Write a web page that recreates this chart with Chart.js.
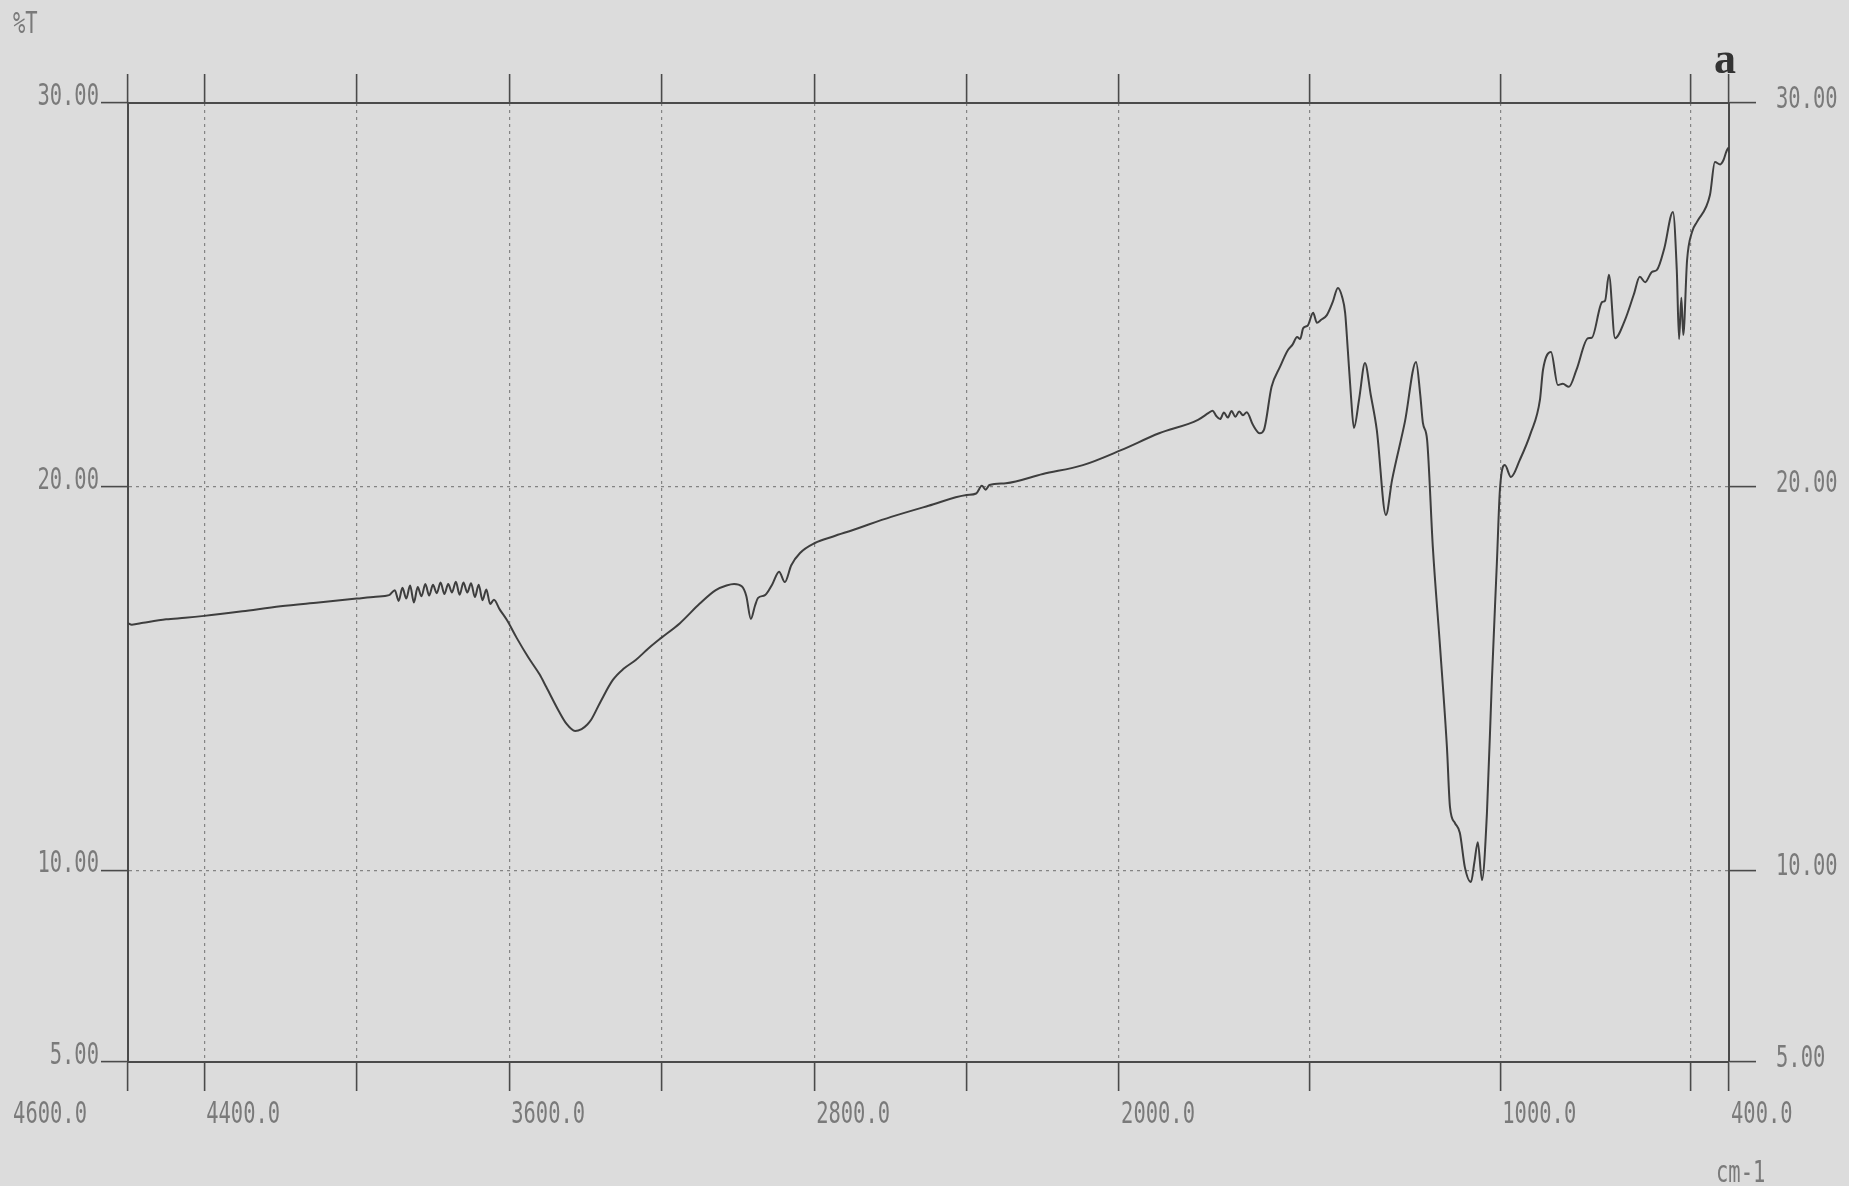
<!DOCTYPE html>
<html>
<head>
<meta charset="utf-8">
<title>IR spectrum a</title>
<script src="https://cdn.jsdelivr.net/npm/chart.js@4.4.1/dist/chart.umd.min.js"></script>
<style>
  html, body { margin: 0; padding: 0; background: #dcdcdc; }
  #wrap { width: 1849px; height: 1186px; position: relative; }
</style>
</head>
<body>
<div id="wrap"><canvas id="irChart"></canvas></div>
<script>
// spectrum points, cm-1 and %T
const wavenumbers = [
  4600, 4590, 4560, 4500, 4450, 4400, 4300, 4200, 4100, 4000, 3950, 3915,
  3900, 3890, 3880, 3870, 3860, 3850, 3840, 3830, 3820, 3810, 3800, 3790,
  3780, 3770, 3760, 3750, 3740, 3730, 3720, 3710, 3700, 3690, 3680, 3670,
  3660, 3650, 3640, 3625, 3606, 3580, 3550, 3520, 3503, 3470, 3450, 3427,
  3410, 3395, 3385, 3360, 3328, 3300, 3268, 3235, 3202, 3152, 3100, 3058,
  3030, 3010, 2990, 2978, 2966, 2955, 2947, 2929, 2910, 2892, 2877, 2860,
  2837, 2798, 2750, 2698, 2598, 2500, 2400, 2375, 2360, 2350, 2340, 2297,
  2200, 2095, 1995, 1895, 1793, 1765, 1755, 1745, 1735, 1725, 1715, 1705,
  1695, 1685, 1675, 1665, 1649, 1631, 1620, 1600, 1578, 1557, 1545, 1533,
  1525, 1517, 1505, 1491, 1481, 1470, 1455, 1440, 1426, 1415, 1407, 1400,
  1392, 1384, 1370, 1355, 1340, 1324, 1300, 1284, 1250, 1221, 1210, 1203,
  1192, 1177, 1158, 1140, 1132, 1119, 1106, 1093, 1077, 1068, 1059, 1048,
  1035, 1022, 1009, 1001, 988, 972, 949, 920, 896, 888, 867, 849,
  836, 820, 800, 770, 760, 733, 725, 715, 699, 673, 650, 634,
  620, 602, 589, 570, 547, 537, 531, 525, 520, 510, 497, 484,
  450, 437, 423, 415, 402, 400
];
const transmittance = [
  16.44, 16.40, 16.45, 16.54, 16.58, 16.63, 16.75, 16.88, 16.98, 17.08, 17.13, 17.17,
  17.30, 17.02, 17.36, 17.08, 17.42, 16.98, 17.38, 17.14, 17.46, 17.16, 17.44, 17.22,
  17.50, 17.20, 17.46, 17.24, 17.52, 17.18, 17.50, 17.24, 17.48, 17.12, 17.44, 17.04,
  17.32, 16.94, 17.05, 16.80, 16.52, 16.05, 15.55, 15.10, 14.78, 14.15, 13.82, 13.63,
  13.68, 13.80, 13.92, 14.40, 14.96, 15.25, 15.48, 15.78, 16.05, 16.44, 16.95, 17.30,
  17.42, 17.46, 17.40, 17.15, 16.55, 16.90, 17.10, 17.17, 17.45, 17.78, 17.51, 17.95,
  18.27, 18.53, 18.70, 18.87, 19.21, 19.50, 19.78, 19.82, 20.02, 19.92, 20.04, 20.09,
  20.33, 20.56, 20.95, 21.39, 21.74, 21.92, 21.98, 21.84, 21.76, 21.93, 21.80, 21.97,
  21.82, 21.96, 21.86, 21.94, 21.61, 21.39, 21.48, 22.60, 23.12, 23.56, 23.70, 23.90,
  23.85, 24.13, 24.20, 24.53, 24.27, 24.35, 24.47, 24.80, 25.18, 24.95, 24.53, 23.56,
  22.40, 21.53, 22.30, 23.22, 22.40, 21.48, 19.26, 20.17, 21.70, 23.25, 22.40, 21.66,
  21.22, 18.43, 15.82, 13.21, 11.65, 11.23, 10.97, 10.08, 9.69, 10.20, 10.73, 9.74,
  11.49, 14.96, 18.00, 19.91, 20.56, 20.25, 20.69, 21.40, 22.26, 23.04, 23.51, 22.65,
  22.68, 22.60, 23.05, 23.87, 23.88, 24.81, 24.85, 25.52, 23.87, 24.34, 25.00, 25.47,
  25.33, 25.60, 25.65, 26.20, 27.16, 25.65, 23.85, 24.92, 23.95, 25.90, 26.64, 26.90,
  27.60, 28.46, 28.40, 28.50, 28.83, 28.70
];

// axis ticks
const xTicks = [4600, 4400, 4000, 3600, 3200, 2800, 2400, 2000, 1500, 1000, 500, 400];
const xLabelled = [4600, 4400, 3600, 2800, 2000, 1000, 400];
const yTicks = [5, 10, 20, 30];

const axisColor = '#4a4a4a';
const gridColor = 'rgba(60,60,60,0.55)';
const textColor = '#7a7a7a';
const plotFont = '31px "DejaVu Sans Mono"';

// plotter style narrow text
function narrowText(ctx, str, px, py, align) {
  ctx.save();
  ctx.translate(px, py);
  ctx.scale(0.66, 1);
  ctx.textAlign = align;
  ctx.textBaseline = 'alphabetic';
  ctx.fillText(str, 0, 0);
  ctx.restore();
}

const plotterLabels = {
  id: 'plotterLabels',
  afterDraw(chart) {
    const { ctx, chartArea } = chart;
    const xs = chart.scales.x;
    const ys = chart.scales.y;
    ctx.save();
    ctx.fillStyle = textColor;
    ctx.font = plotFont;

    yTicks.forEach(v => {
      const py = ys.getPixelForValue(v);
      narrowText(ctx, v.toFixed(2), chartArea.left - 29, py + 2, 'right');
      narrowText(ctx, v.toFixed(2), chartArea.right + 47, py + 5, 'left');
    });

    xLabelled.forEach(v => {
      const px = xs.getPixelForValue(v);
      if (v === 4600) {
        narrowText(ctx, v.toFixed(1), px - 41, 1123, 'right');
      } else {
        narrowText(ctx, v.toFixed(1), px + 2, 1123, 'left');
      }
    });

    narrowText(ctx, '%T', 13, 33, 'left');
    narrowText(ctx, 'cm-1', 1716, 1182, 'left');

    ctx.fillStyle = '#333333';
    ctx.font = 'bold 44px "Liberation Serif"';
    ctx.textAlign = 'center';
    ctx.fillText('a', 1725, 73);
    ctx.restore();
  }
};

const isEdge = (c, lo, hi) => c.tick && (c.tick.value === lo || c.tick.value === hi);

const xAxis = (pos, boxHeight, onArea) => ({
  type: 'linear',
  position: pos,
  reverse: true,
  min: 400,
  max: 4600,
  afterBuildTicks: s => { s.ticks = xTicks.map(v => ({ value: v })); },
  afterFit: s => { s.height = boxHeight; },
  ticks: { display: false },
  grid: {
    drawOnChartArea: onArea,
    color: c => isEdge(c, 400, 4600) ? 'rgba(0,0,0,0)' : gridColor,
    lineWidth: 1.2,
    tickLength: 29,
    tickColor: axisColor,
    tickWidth: 1.6
  },
  border: { color: axisColor, width: 2, dash: [3, 4] }
});

const yAxis = (pos, boxWidth, onArea) => ({
  type: 'linear',
  position: pos,
  min: 5,
  max: 30,
  afterBuildTicks: s => { s.ticks = yTicks.map(v => ({ value: v })); },
  afterFit: s => { s.width = boxWidth; },
  ticks: { display: false },
  grid: {
    drawOnChartArea: onArea,
    color: c => isEdge(c, 5, 30) ? 'rgba(0,0,0,0)' : gridColor,
    lineWidth: 1.2,
    tickLength: 27,
    tickColor: axisColor,
    tickWidth: 1.6
  },
  border: { color: axisColor, width: 2, dash: [3, 4] }
});

const ctx = document.getElementById('irChart');

new Chart(ctx, {
  type: 'line',
  data: {
    datasets: [{
      label: '%T',
      data: wavenumbers.map((w, i) => ({ x: w, y: transmittance[i] })),
      borderColor: '#3e3e3e',
      borderWidth: 2,
      pointRadius: 0,
      cubicInterpolationMode: 'monotone',
      fill: false
    }]
  },
  options: {
    responsive: true,
    maintainAspectRatio: false,
    animation: false,
    layout: { padding: 0 },
    plugins: {
      legend: { display: false },
      tooltip: { enabled: false }
    },
    scales: {
      x: xAxis('bottom', 1186 - 1062, true),
      x2: xAxis('top', 103, false),
      y: yAxis('left', 128, true),
      y2: yAxis('right', 1849 - 1729, false)
    }
  },
  plugins: [plotterLabels]
});
</script>
</body>
</html>
